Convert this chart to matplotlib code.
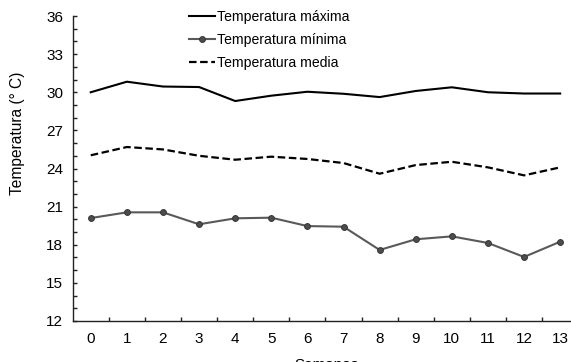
import numpy as np
import matplotlib
matplotlib.use("Agg")
import matplotlib.pyplot as plt

plt.rcParams['font.family'] = ['Liberation Sans', 'DejaVu Sans']

semanas = list(range(14))
temp_max = [30.0, 30.83, 30.45, 30.41, 29.31, 29.73, 30.04, 29.88, 29.62, 30.1, 30.39, 30.0, 29.9, 29.9]
temp_min = [20.1, 20.55, 20.55, 19.61, 20.08, 20.13, 19.47, 19.42, 17.59, 18.43, 18.66, 18.14, 17.04, 18.24]
temp_media = [25.04, 25.69, 25.5, 25.0, 24.69, 24.93, 24.75, 24.43, 23.59, 24.27, 24.53, 24.09, 23.46, 24.09]

fig = plt.figure(figsize=(5.71, 3.62), dpi=100)
ax = fig.add_axes([72.7 / 571, (362 - 321) / 362, 1 - 72.7 / 571, (321 - 16) / 362])

ax.plot(semanas, temp_max, color='black', lw=1.5, label='Temperatura máxima')
ax.plot(semanas, temp_min, color='#595959', lw=1.5, marker='o', markersize=4.2,
        markerfacecolor='#4d4d4d', markeredgecolor='#333333', markeredgewidth=0.7,
        label='Temperatura mínima')
ax.plot(semanas, temp_media, color='black', lw=1.6, dashes=(3.4, 1.6),
        label='Temperatura media')

ax.set_xlim(-0.5, 13.3)
ax.set_ylim(12, 36)
ax.set_yticks(np.arange(12, 37, 3))
ax.set_yticks(np.arange(12, 37, 1), minor=True)
ax.set_xticks(semanas)
ax.set_xticks(np.arange(0.5, 13, 1), minor=True)

for s in ['top', 'right']:
    ax.spines[s].set_visible(False)
for s in ['left', 'bottom']:
    ax.spines[s].set_linewidth(1.0)
    ax.spines[s].set_color('#222222')

ax.tick_params(axis='y', which='both', direction='in', length=3, width=1.0,
               color='#222222', labelsize=11, pad=7)
ax.tick_params(axis='x', which='major', length=0, labelsize=11, pad=8)
ax.tick_params(axis='x', which='minor', direction='in', length=3, width=1.0, color='#222222')

ax.set_ylabel('Temperatura (° C)', fontsize=11.2)
ax.yaxis.set_label_coords(-0.095, 0.615)
ax.set_xlabel('Semanas', fontsize=11)
ax.xaxis.set_label_coords(0.51, -0.12)

leg = ax.legend(loc='upper left', bbox_to_anchor=(0.222, 1.037), frameon=False,
                fontsize=10.1, handlelength=1.85, handletextpad=0.15,
                labelspacing=0.64, borderaxespad=0)

fig.savefig('out.png', dpi=100)
